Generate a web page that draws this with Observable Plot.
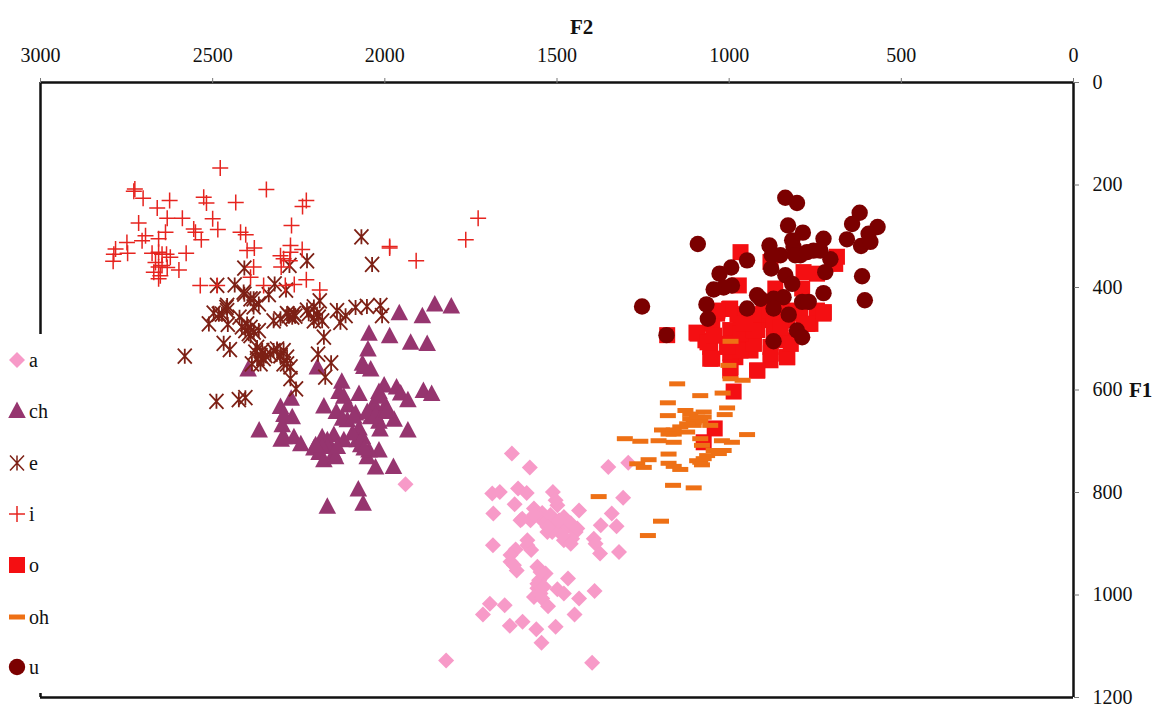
<!DOCTYPE html>
<html>
<head>
<meta charset="utf-8">
<script src="https://cdn.jsdelivr.net/npm/d3@7"></script>
<script src="https://cdn.jsdelivr.net/npm/@observablehq/plot@0.6"></script>
<style>
html,body{margin:0;padding:0;background:#fff;overflow:hidden}
#wrap{position:relative;width:1159px;height:706px;font-family:"Liberation Serif",serif;color:#111}
.t{position:absolute;font-size:21px;line-height:20px;font-weight:bold}
#legend{position:absolute;left:0;top:334px;width:60px;height:359px;background:#fff}
.row{position:absolute;left:0;height:24px;width:60px}
.row svg{position:absolute;left:6px;top:0}
.row span{position:absolute;left:29px;top:0;font-size:20px;line-height:22px}
</style>
</head>
<body>
<div id="wrap"></div>
<script>
const xTicks = [3000,2500,2000,1500,1000,500,0];
const yTicks = [0,200,400,600,800,1000,1200];
const seriesNames = ["a","ch","e","i","o","oh","u"];
const colors = ["#f79ac8","#96356f","#7d2015","#e6241f","#f40f12","#ee7015","#7b0000"];

const a = [[1631,724],[1579,751],[1351,750],[1293,742],[1688,802],[1666,799],[1613,792],[1588,801],[1512,799],[1308,810],[1623,823],[1499,825],[1685,841],[1567,831],[1543,840],[1436,835],[1341,841],[1606,854],[1577,854],[1548,851],[1528,854],[1480,848],[1373,864],[1327,866],[1509,860],[1528,877],[1494,874],[1470,867],[1446,877],[1480,893],[1456,890],[1393,890],[1388,900],[1375,919],[1320,916],[1686,903],[1586,903],[1575,912],[1620,911],[1635,935],[1617,952],[1557,945],[1533,958],[1468,968],[1552,971],[1557,987],[1499,989],[1480,997],[1567,1004],[1543,1007],[1526,1022],[1436,1007],[1391,992],[1695,1017],[1652,1020],[1715,1038],[1449,1038],[1637,1060],[1600,1052],[1560,1067],[1504,1062],[1545,1093],[1822,1128],[1398,1132],[1940,784],[1519,844],[1494,854],[1460,860],[1514,877],[1485,883],[1460,900],[1441,870],[1528,867],[1567,844],[1504,815],[1557,978],[1548,997],[1538,984],[1548,955],[1635,922],[1625,942],[1601,851],[1586,893]];

const ch = [[1855,433],[1807,437],[1958,450],[1891,456],[2046,490],[1986,495],[1925,508],[1877,510],[2049,521],[2065,549],[2041,560],[2397,560],[2196,556],[2125,584],[2133,604],[2075,608],[2002,591],[2017,604],[1966,595],[1954,607],[1933,620],[1888,602],[1864,608],[2303,633],[2272,617],[2269,653],[2177,632],[2141,643],[2107,630],[2085,646],[2109,659],[2032,636],[1998,630],[2041,653],[2017,662],[1973,658],[2014,677],[1933,679],[2365,679],[2298,669],[2301,697],[2264,692],[2244,706],[2182,692],[2148,688],[2119,698],[2206,714],[2191,723],[2148,724],[2080,698],[2075,675],[2070,708],[2051,731],[2017,718],[2027,751],[1975,750],[2177,737],[2077,794],[2063,822],[2167,828],[2167,698],[2143,731],[2032,627],[2051,643],[2027,649],[2002,643],[1993,640],[2293,649],[2293,692],[2167,711],[2182,711],[2138,711],[2094,685],[2065,692],[2046,718],[2060,714],[2123,656],[2090,652],[2119,613],[2061,555],[2201,708],[2012,613]];

const e = [[2068,301],[2037,355],[2226,348],[2277,357],[2408,362],[2487,396],[2436,395],[2408,413],[2381,422],[2366,432],[2320,393],[2287,405],[2337,414],[2460,439],[2473,452],[2497,450],[2511,471],[2456,472],[2422,458],[2323,465],[2303,461],[2279,455],[2260,456],[2226,444],[2197,452],[2189,426],[2182,465],[2139,445],[2129,468],[2114,455],[2085,439],[2052,437],[2013,435],[2008,455],[2405,484],[2381,487],[2366,484],[2468,509],[2450,521],[2581,534],[2177,497],[2194,530],[2156,547],[2173,575],[2376,526],[2356,523],[2352,539],[2361,549],[2323,523],[2294,523],[2284,536],[2294,549],[2274,578],[2258,598],[2489,622],[2424,619],[2405,615],[2400,471],[2390,494],[2415,477],[2458,445],[2347,533],[2303,533],[2371,539],[2264,451],[2206,465],[2390,478],[2395,490],[2361,533],[2371,517],[2332,530],[2313,520],[2303,533],[2458,435],[2482,452],[2390,422],[2381,438],[2410,409],[2284,451],[2269,458],[2221,451],[2206,438],[2192,458],[2284,549],[2274,555],[2386,549]];

const i = [[2478,167],[2729,212],[2726,208],[2702,226],[2625,230],[2661,245],[2526,224],[2518,235],[2433,234],[2344,209],[2228,230],[2239,242],[2715,274],[2632,265],[2588,265],[2500,266],[2485,287],[2555,286],[2550,292],[2533,307],[2271,279],[2419,292],[2404,297],[2695,299],[2637,292],[2705,309],[2749,312],[2782,325],[2787,335],[2789,349],[2747,333],[2657,305],[2676,333],[2657,331],[2647,335],[2634,335],[2623,341],[2577,333],[2666,351],[2647,357],[2632,361],[2598,366],[2671,370],[2657,383],[2652,377],[2657,360],[2400,328],[2379,323],[2274,318],[2240,326],[2303,338],[2294,344],[2301,360],[2274,331],[2276,348],[2381,360],[2536,396],[2228,385],[2263,394],[2189,405],[1729,265],[1765,307],[1986,320],[1986,323],[1909,348],[2487,396],[2289,396],[2390,380],[2352,396]];

const o = [[967,331],[687,340],[692,354],[784,370],[745,373],[972,396],[880,350],[1180,493],[1095,488],[726,451],[764,471],[866,402],[788,402],[997,441],[997,483],[967,477],[909,464],[832,464],[784,471],[1069,503],[1055,516],[1055,539],[1006,510],[982,536],[919,562],[938,523],[880,542],[832,536],[832,503],[880,516],[997,562],[967,510],[871,464],[929,497],[1035,451],[745,445],[793,451],[900,445],[919,483],[871,497],[997,529],[987,603],[1042,675],[1074,702],[1092,490],[1063,507],[1049,539],[996,556],[918,562],[967,523],[928,510],[967,490],[1005,516],[976,452],[928,452],[928,484],[870,471],[879,529],[831,536],[821,510],[831,445],[850,478],[773,471],[725,448],[1049,471],[1044,494],[1000,442],[1034,445],[957,471]];

const oh = [[1151,588],[1084,611],[1019,606],[1178,625],[1178,650],[1006,635],[1013,648],[1127,640],[1074,643],[1113,656],[1103,669],[1084,660],[1195,678],[1161,686],[1161,702],[1303,695],[1258,700],[1205,699],[948,687],[1021,699],[992,702],[1084,695],[1079,708],[1016,718],[1064,728],[1093,738],[1079,746],[1176,725],[1234,736],[1267,744],[1248,751],[1176,743],[1161,749],[1142,755],[1163,786],[1103,791],[1379,808],[1198,856],[1236,884],[1055,669],[1045,718],[1142,672],[1122,682],[996,505],[1002,552],[996,578],[961,581],[1113,647],[1093,653],[1103,663],[1074,653],[1122,666],[1161,678],[1176,686],[1035,718],[1030,724],[1084,741],[1074,734]];

const u = [[837,225],[803,235],[621,254],[643,276],[569,282],[829,279],[786,293],[595,295],[726,305],[658,306],[817,308],[617,319],[590,311],[883,318],[1091,315],[813,321],[755,328],[793,337],[851,337],[876,337],[948,347],[706,345],[721,370],[994,361],[1028,373],[878,363],[614,378],[837,376],[817,393],[992,396],[1016,400],[1045,404],[726,411],[606,425],[919,415],[1253,437],[1066,433],[948,441],[909,422],[871,422],[842,419],[788,428],[769,428],[871,441],[827,453],[1062,461],[803,484],[788,497],[871,505],[1182,493],[808,337],[774,331],[735,328]];

// Marker shapes (Excel-style), fixed size regardless of the area passed in
const shapes = {
  a:{draw(c){c.moveTo(0,-8);c.lineTo(8,0);c.lineTo(0,8);c.lineTo(-8,0);c.closePath();}},
  ch:{draw(c){c.moveTo(0,-9.5);c.lineTo(8.8,7);c.lineTo(-8.8,7);c.closePath();}},
  e:{draw(c){c.moveTo(-7,-7.5);c.lineTo(7,7.5);c.moveTo(7,-7.5);c.lineTo(-7,7.5);c.moveTo(0,-7.5);c.lineTo(0,7.5);}},
  i:{draw(c){c.moveTo(-8,0);c.lineTo(8,0);c.moveTo(0,-8);c.lineTo(0,8);}},
  o:{draw(c){c.rect(-8,-8,16,16);}},
  oh:{draw(c){c.rect(-8,-2.5,16,5);}},
  u:{draw(c){c.moveTo(8.2,0);c.arc(0,0,8.2,0,2*Math.PI);c.closePath();}}
};
const filled = {a:true,ch:true,e:false,i:false,o:true,oh:true,u:true};
const table = {a,ch,e,i,o,oh,u};

const dotFor = (name, k) => Plot.dot(table[name], {
  x: d => d[0], y: d => d[1], symbol: shapes[name],
  fill: filled[name] ? colors[k] : "none",
  stroke: filled[name] ? "none" : colors[k],
  strokeWidth: filled[name] ? 0 : (name === "e" ? 1.8 : 1.5)
});

const chart = Plot.plot({
  width: 1159, height: 706,
  marginLeft: 40, marginRight: 86, marginTop: 82, marginBottom: 9,
  x: {domain: [3000, 0]},
  y: {domain: [0, 1200], reverse: true},
  style: {fontFamily: "'Liberation Serif',serif", fontSize: "20px", color: "#111", background: "#fff", overflow: "visible"},
  marks: [
    ...seriesNames.map(dotFor),
    Plot.ruleY([0, 1200], {stroke: "#111", strokeWidth: 2.5}),
    Plot.ruleX([3000, 0], {stroke: "#111", strokeWidth: 2.5}),
    Plot.axisX(xTicks, {anchor: "top", tickSize: 5, tickPadding: 16, label: null, tickFormat: d => String(d), stroke: "#777", fontSize: 20}),
    Plot.axisY(yTicks, {anchor: "right", tickSize: 5, tickPadding: 14, label: null, tickFormat: d => String(d), textAnchor: "start", stroke: "#777", fontSize: 20})
  ]
});

const wrap = document.getElementById("wrap");
wrap.appendChild(chart);

const addLabel = (txt, left, top) => {
  const el = document.createElement("div");
  el.className = "t"; el.textContent = txt;
  el.style.left = left + "px"; el.style.top = top + "px";
  wrap.appendChild(el);
};
addLabel("F2", 570, 17);
addLabel("F1", 1129, 380);

const legend = document.createElement("div");
legend.id = "legend";
const rowTops = [15, 66, 118, 169, 220, 272, 322];
seriesNames.forEach((n, k) => {
  const row = document.createElement("div");
  row.className = "row"; row.style.top = rowTops[k] + "px";
  const sym = d3.create("svg").attr("width", 22).attr("height", 24);
  const path = d3.path(); shapes[n].draw(path);
  sym.append("path").attr("d", path.toString()).attr("transform", "translate(11,11)")
    .attr("fill", filled[n] ? colors[k] : "none")
    .attr("stroke", filled[n] ? "none" : colors[k])
    .attr("stroke-width", filled[n] ? 0 : 1.5);
  row.appendChild(sym.node());
  const s = document.createElement("span"); s.textContent = n;
  row.appendChild(s);
  legend.appendChild(row);
});
wrap.appendChild(legend);
</script>
</body>
</html>
